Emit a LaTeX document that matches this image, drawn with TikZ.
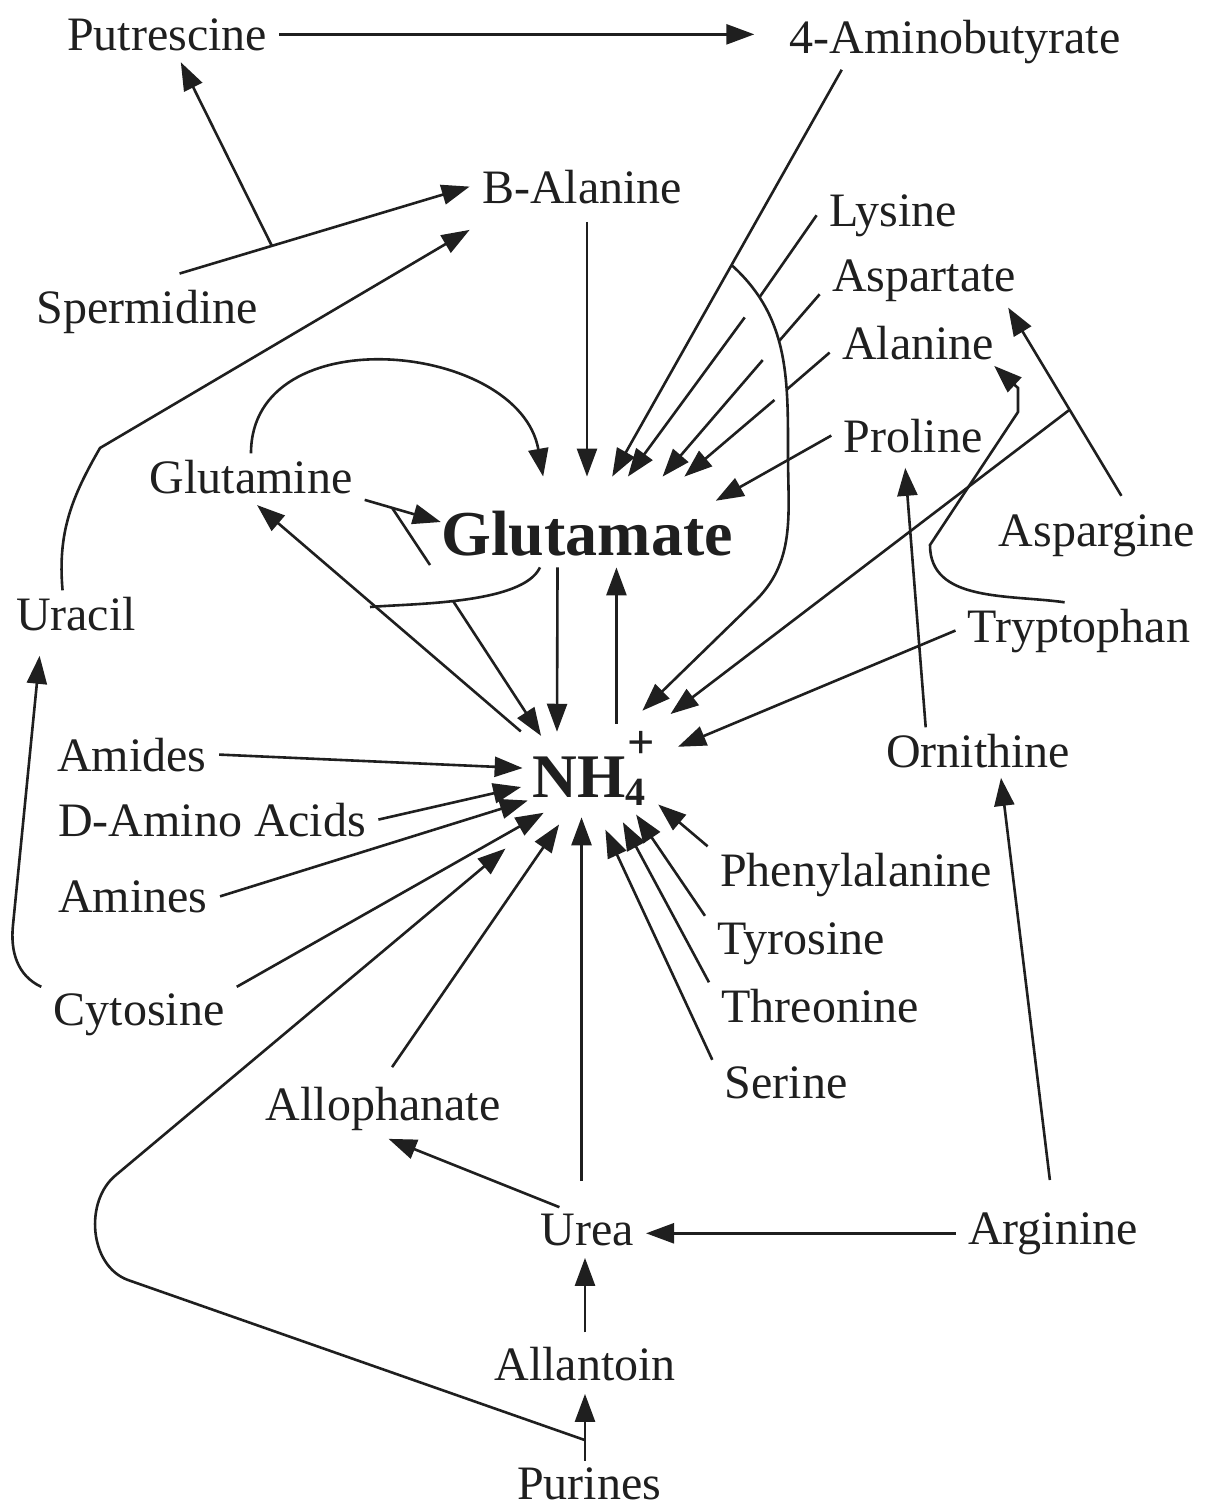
\documentclass[tikz,border=0pt]{standalone}
\usepackage{fontspec}
\setmainfont{Liberation Serif}
\usetikzlibrary{arrows.meta}
\definecolor{ink}{gray}{0.12}

\begin{document}
\begin{tikzpicture}[x=0.5pt, y=-0.5pt,
    mol/.style={font=\fontsize{24}{28}\selectfont, text=ink, inner xsep=6pt, inner ysep=3pt, anchor=base},
    hub/.style={font=\fontsize{32}{36}\selectfont\bfseries, text=ink},
    arr/.style={draw=ink, line width=1.3pt, -{Triangle[length=14pt, width=10pt]}},
    link/.style={draw=ink, line width=1.3pt}]
    \useasboundingbox (0,0) rectangle (1206,1510);

    \node [mol] (put) at (167,50) {Putrescine};
    \node [mol] (amb) at (955,53) {4-Aminobutyrate};
    \node [mol] (bal) at (582,203) {B-Alanine};
    \node [mol] (lys) at (893,226) {Lysine};
    \node [mol] (asp) at (924,291) {Aspartate};
    \node [mol] (ala) at (918,359) {Alanine};
    \node [mol] (pro) at (913,452) {Proline};
    \node [mol] (sper) at (147,323) {Spermidine};
    \node [mol] (glm) at (251,493) {Glutamine};
    \node [mol] (asn) at (1097,546) {Aspargine};
    \node [mol] (ura) at (76,630) {Uracil};
    \node [mol] (trp) at (1079,642) {Tryptophan};
    \node [mol] (orn) at (978,767) {Ornithine};
    \node [mol] (amd) at (132,771) {Amides};
    \node [mol] (dam) at (212,836) {D-Amino Acids};
    \node [mol] (phe) at (856,886) {Phenylalanine};
    \node [mol] (ami) at (133,912) {Amines};
    \node [mol] (tyr) at (801,954) {Tyrosine};
    \node [mol] (thr) at (820,1022) {Threonine};
    \node [mol] (cyt) at (139,1025) {Cytosine};
    \node [mol] (ser) at (786,1098) {Serine};
    \node [mol] (allo) at (383,1120) {Allophanate};
    \node [mol] (urea) at (587,1245) {Urea};
    \node [mol] (arg) at (1053,1244) {Arginine};
    \node [mol] (allt) at (585,1380) {Allantoin};
    \node [mol] (pur) at (589,1499) {Purines};
    \node [hub, text height=33pt, text depth=0pt, inner xsep=0pt, inner ysep=6pt, anchor=base] (glu) at (587,555) {Glutamate};
    \node [circle, minimum size=50pt, inner sep=0pt,
        label={[hub, font=\fontsize{31}{34}\selectfont\bfseries, name=nh4text, xshift=-1.5pt]center:NH\rlap{\kern1pt\raisebox{19.5pt}{\fontsize{24}{24}\selectfont +}}\raisebox{-4pt}{\fontsize{20}{20}\selectfont 4}}] (nh4) at (592,768) {};
    \coordinate (glmtick) at (430,565);
    \coordinate (glubrk) at (370,607);

    \path [arr, shorten >=11.5pt] (put.east) -- (put.east -| amb.west);
    \path [arr, shorten <=17pt] (sper.north) -- node[coordinate, pos=0.387] (jsp) {} (bal.west);
    \path [arr, shorten >=3pt] (jsp) -- (put);
    \path [arr] (ura.120) to[out=95, in=-120] (100,448) -- ([yshift=-10pt]bal.south west);
    \path [arr, shorten <=6pt] (glu.north |- bal.south) -- (glu.north);
    \path [arr] (amb.194) -- node[coordinate, pos=0.48] (jamb) {} (glu.61);
    \path [arr, shorten >=13pt] (jamb) to[out=-42, in=90]
        node[coordinate, pos=0.2] (jlys) {} node[coordinate, pos=0.45] (jasp) {} node[coordinate, pos=0.7] (jala) {}
        (788,455) to[out=-90, in=43] (753,603) -- (nh4.51);
    \path [link] (lys.west) -- (jlys);
    \path [link] ([yshift=-7pt]asp.west) -- (jasp);
    \path [link] ([yshift=-5pt]ala.west) -- (jala);
    \path [arr, shorten <=12.5pt] (jlys) -- (glu.48);
    \path [arr, shorten <=12.5pt] (jasp) -- (glu.31);
    \path [arr, shorten <=8pt] (jala) -- (glu.25);
    \path [arr, shorten >=-10pt] (pro.west) -- (glu.12);
    \path [arr] (glm.north) to[out=90, in=100, looseness=1.2] (glu.134);
    \path [arr] (glm.south east) -- node[coordinate, pos=0.36] (jglm) {} (glu.west);
    \path [link] (jglm) -- (glmtick);
    \path [link] (glu.224) to[out=-115, in=5, looseness=0.6] node[coordinate, pos=0.55] (jglu) {} (glubrk);
    \path [arr, shorten >=5.5pt] (jglu) -- (nh4.153);
    \path [arr] (glu.237) -- (nh4.134);
    \path [arr] (nh4.61) -- (nh4.61 |- glu.south);
    \path [arr, shorten <=15.5pt, shorten >=4pt] (nh4.161) -- (glm.south);
    \path [arr, shorten <=7pt] (asn.41) -- node[coordinate, pos=0.49] (jasn) {} (asp.342);
    \path [arr, shorten >=22.5pt] (jasn) -- (nh4.32);
    \path [arr, shorten >=19.5pt] (trp.west) -- (nh4.7);
    \path [arr] (trp.117) to[out=172, in=-90] (930,545) -- (1018,412) -- (1018,388) -- (ala.343);
    \path [arr, shorten >=4.5pt] (orn.156) -- (pro.250);
    \path [arr, shorten <=13pt, shorten >=2pt] (arg.north) -- (orn.314);
    \path [arr] (arg.west) -- (arg.west -| urea.east);
    \path [arr, shorten >=3pt] (urea.141) -- (allo.south);
    \path [arr, shorten <=4pt, shorten >=3pt] (allt.north) -- (allt.north |- urea.south);
    \path [arr, shorten >=3.5pt] (allt.south |- pur.north) -- node[coordinate, pos=0.28] (jpur) {} (allt.south);
    \path [arr, shorten >=34pt] (jpur) -- (128,1280) to[out=160, in=-141] (116,1175) -- (nh4.227);
    \path [arr, shorten >=9.5pt] (cyt.north west) to[out=155, in=-96] (13,925) -- (ura.214);
    \path [arr, shorten >=9.5pt] (amd.east) -- (nh4.181);
    \path [arr, shorten >=11.5pt] (dam.east) -- (nh4.196);
    \path [arr, shorten >=11pt] (ami.east) -- (nh4.211);
    \path [arr, shorten >=8pt] (cyt.north east) -- (nh4.227);
    \path [arr, shorten <=8pt, shorten >=7.5pt] (allo.north) -- (nh4.241);
    \path [arr, shorten <=13pt] (nh4.258 |- urea.north) -- (nh4.258);
    \path [arr, shorten >=6.5pt] (ser.north west) -- (nh4.279);
    \path [arr, shorten >=6pt] (thr.north west) -- (nh4.300);
    \path [arr, shorten >=7pt] (tyr.north west) -- (nh4.316);
    \path [arr, shorten >=13pt] (phe.north west) -- (nh4.337);
\end{tikzpicture}
\end{document}
